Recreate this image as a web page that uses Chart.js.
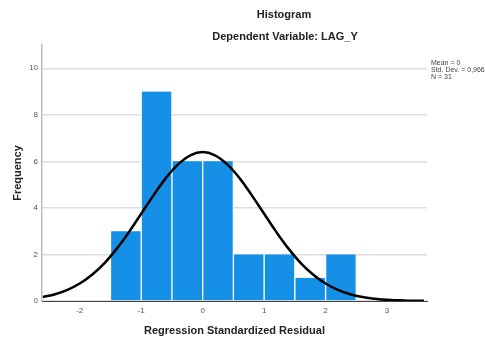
<!DOCTYPE html>
<html>
<head>
<meta charset="utf-8">
<script src="https://cdn.jsdelivr.net/npm/chart.js@4"></script>
<style>
  html,body{margin:0;padding:0;background:#fff;}
  #wrap{width:485px;height:338px;position:relative;}
</style>
</head>
<body>
<div id="wrap"><canvas id="chart1"></canvas></div>
<script>
// histogram bins (centres, width 0.5) and counts
const binCenters = [-1.25,-0.75,-0.25,0.25,0.75,1.25,1.75,2.25];
const binCounts  = [3,9,6,6,2,2,1,2];
// normal curve
const curveX = [-2.6,-2.4,-2.2,-2.0,-1.8,-1.6,-1.4,-1.2,-1.0,-0.8,-0.6,-0.4,-0.2,0,0.2,0.4,0.6,0.8,1.0,1.2,1.4,1.6,1.8,2.0,2.2,2.4,2.6,2.8,3.0,3.2,3.4,3.6];
const curveY = [0.17,0.29,0.48,0.75,1.13,1.62,2.24,2.96,3.75,4.54,5.28,5.87,6.26,6.40,6.26,5.87,5.28,4.54,3.75,2.96,2.24,1.62,1.13,0.75,0.48,0.29,0.17,0.10,0.05,0.03,0.01,0.01];
const xTicks = [-2,-1,0,1,2,3];
const yTicks = [0,2,4,6,8,10];
const statsLines = ["Mean = 0","Std. Dev. = 0,966","N = 31"];
const titleLines = ["Histogram","Dependent Variable: LAG_Y"];

const FONT = "'Liberation Sans', Arial, sans-serif";

const textPlugin = {
  id:"texts",
  afterDraw(chart){
    const ctx = chart.ctx, a = chart.chartArea;
    ctx.save();
    ctx.fillStyle = "#222";
    ctx.font = "bold 11px "+FONT;
    ctx.textAlign = "center"; ctx.textBaseline = "middle";
    ctx.fillText(titleLines[0], 284, 15);
    ctx.fillText(titleLines[1], 285, 37);
    ctx.font = "7px "+FONT;
    ctx.textAlign = "left"; ctx.fillStyle = "#444";
    for (let i=0;i<statsLines.length;++i) ctx.fillText(statsLines[i], a.right+4, 63+i*7);
    ctx.restore();
  }
};

new Chart(document.getElementById("chart1"), {
  type: "bar",
  data: {
    datasets: [
      { type:"line", data: curveX.map((x,i)=>({x:x,y:curveY[i]})), borderColor:"#000", borderWidth:2.5,
        pointRadius:0, tension:0.4, fill:false, order:0 },
      { type:"bar", data: binCenters.map((x,i)=>({x:x,y:binCounts[i]})), backgroundColor:"#1590E6",
        borderColor:"#fff", borderWidth:{left:1,right:1,top:0,bottom:0}, borderSkipped:false,
        barPercentage:1, categoryPercentage:1, order:1 }
    ]
  },
  options: {
    responsive:true, maintainAspectRatio:false, animation:false,
    layout:{ padding:{ top:45, right:58, left:0, bottom:0 } },
    plugins:{ legend:{display:false}, title:{display:false}, tooltip:{enabled:false} },
    scales:{
      x:{
        type:"linear", min:-2.614, max:3.65, offset:false,
        afterBuildTicks: s => { s.ticks = xTicks.map(v=>({value:v})); },
        afterFit: s => { s.height = 37; },
        grid:{ display:false, drawTicks:false, offset:false },
        border:{ display:true, color:"#444", width:1 },
        ticks:{ font:{family:FONT,size:8}, color:"#555", padding:5, includeBounds:false },
        title:{ display:true, text:"Regression Standardized Residual", font:{family:FONT,size:11,weight:"bold"}, color:"#222", padding:{top:6,bottom:0} }
      },
      y:{
        min:0, max:11,
        afterBuildTicks: s => { s.ticks = yTicks.map(v=>({value:v})); },
        afterFit: s => { s.width = 42; },
        grid:{ color:"#ddd", lineWidth:1.5, drawTicks:false },
        border:{ display:true, color:"#bbb", width:1.5 },
        ticks:{ font:{family:FONT,size:8}, color:"#555", padding:4, includeBounds:false },
        title:{ display:true, text:"Frequency", font:{family:FONT,size:11,weight:"bold"}, color:"#222", padding:{top:11,bottom:0} }
      }
    }
  },
  plugins:[textPlugin]
});
</script>
</body>
</html>
